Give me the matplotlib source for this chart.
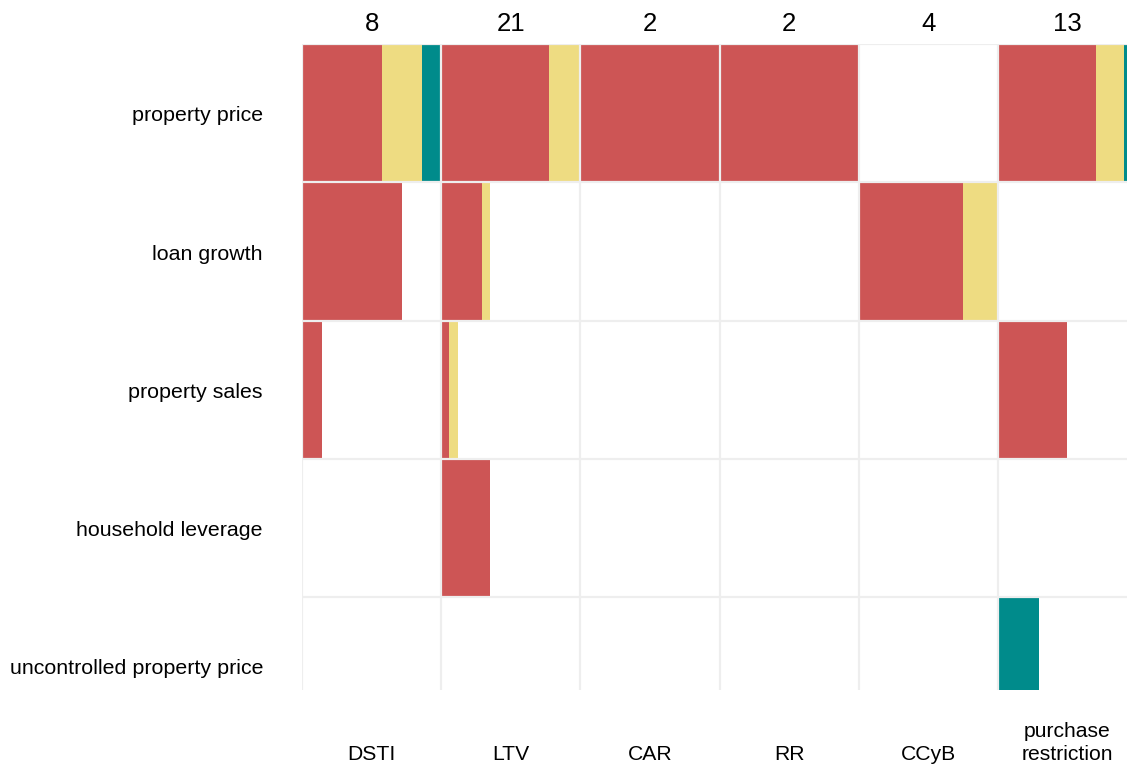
import matplotlib
matplotlib.use("Agg")
import matplotlib.pyplot as plt
import matplotlib.transforms as mtransforms
import numpy as np

# ── data ──────────────────────────────────────────────────────────────────────

targets = ["property price", "loan growth", "property sales",
           "household leverage", "uncontrolled property price"]
instruments = ["DSTI", "LTV", "CAR", "RR", "CCyB", "purchase\nrestriction"]
n_studies = [8, 21, 2, 2, 4, 13]

# share of studies per (target, instrument)
red_share = [
    [0.572, 0.774, 1.0, 1.0, 0.0, 0.703],
    [0.717, 0.294, 0.0, 0.0, 0.75, 0.0],
    [0.145, 0.053, 0.0, 0.0, 0.0, 0.50],
    [0.0, 0.352, 0.0, 0.0, 0.0, 0.0],
    [0.0, 0.0, 0.0, 0.0, 0.0, 0.0],
]
yellow_share = [
    [0.290, 0.226, 0.0, 0.0, 0.0, 0.203],
    [0.0, 0.058, 0.0, 0.0, 0.25, 0.0],
    [0.0, 0.066, 0.0, 0.0, 0.0, 0.0],
    [0.0, 0.0, 0.0, 0.0, 0.0, 0.0],
    [0.0, 0.0, 0.0, 0.0, 0.0, 0.0],
]
teal_share = [
    [0.138, 0.0, 0.0, 0.0, 0.0, 0.094],
    [0.0, 0.0, 0.0, 0.0, 0.0, 0.0],
    [0.0, 0.0, 0.0, 0.0, 0.0, 0.0],
    [0.0, 0.0, 0.0, 0.0, 0.0, 0.0],
    [0.0, 0.0, 0.0, 0.0, 0.0, 0.297],
]

COLORS = ["#CD5555", "#EEDC82", "#008B8B"]
GRID = "#EEEEEE"

plt.rcParams["font.family"] = ["Liberation Sans", "DejaVu Sans"]

# ── figure ────────────────────────────────────────────────────────────────────

W, H = 1127, 765
fig = plt.figure(figsize=(W / 100, H / 100), dpi=100)
# panel runs past the right edge on purpose (last column is cut off)
ax = fig.add_axes([302 / W, 1 - 690 / H, 835 / W, 646 / H])

n_rows, n_cols = len(targets), len(instruments)
shares = [np.array(red_share), np.array(yellow_share), np.array(teal_share)]

for r in range(n_rows):
    for c in range(n_cols):
        left = float(c)
        for s, col in zip(shares, COLORS):
            w = s[r, c]
            if w > 0:
                ax.barh(r + 0.5, w, left=left, height=1.0, color=col,
                        linewidth=0, zorder=1)
                left += w

# cell borders
for x in range(n_cols + 1):
    ax.axvline(x, color=GRID, lw=1.6, zorder=3)
for y in range(n_rows + 1):
    ax.axhline(y, color=GRID, lw=1.6, zorder=3)

ax.set_xlim(0, n_cols)
ax.set_ylim(4 + 93 / 138.3, 0)
ax.set_xticks([])
ax.set_yticks([])
for sp in ax.spines.values():
    sp.set_visible(False)

# row labels
trans_y = mtransforms.blended_transform_factory(ax.transAxes, ax.transData)
for r, lab in enumerate(targets):
    ax.text(-39 / 835, r + 0.52, lab, transform=trans_y, ha="right",
            va="center", fontsize=15.4, clip_on=False)

# column counts on top, instrument names at the bottom
trans_x = mtransforms.blended_transform_factory(ax.transData, ax.transAxes)
for c, (lab, n) in enumerate(zip(instruments, n_studies)):
    ax.text(c + 0.5, 1 + 13 / 646, str(n), transform=trans_x, ha="center",
            va="baseline", fontsize=18.5, clip_on=False)
    ax.text(c + 0.5, -74 / 646, lab, transform=trans_x, ha="center",
            va="bottom", fontsize=15.2, linespacing=1.25, clip_on=False)

fig.savefig("out.png", dpi=100)
